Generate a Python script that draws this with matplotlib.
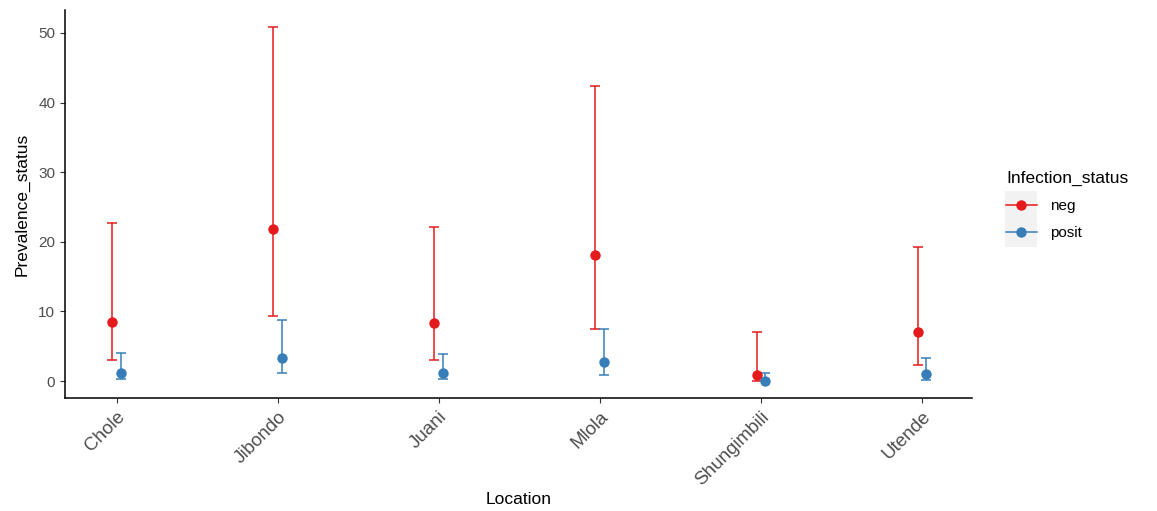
import numpy as np
import matplotlib
matplotlib.use("Agg")
import matplotlib.pyplot as plt
from matplotlib.patches import Rectangle
from matplotlib.lines import Line2D

# data
locations = ['Chole', 'Jibondo', 'Juani', 'Mlola', 'Shungimbili', 'Utende']
neg_mean = [8.5, 21.9, 8.3, 18.1, 0.9, 7.0]
neg_low = [3.0, 9.3, 3.0, 7.5, 0.05, 2.3]
neg_high = [22.7, 50.8, 22.2, 42.4, 7.0, 19.3]
pos_mean = [1.2, 3.3, 1.2, 2.7, 0.05, 1.0]
pos_low = [0.3, 1.2, 0.3, 0.9, 0.0, 0.2]
pos_high = [4.0, 8.8, 3.9, 7.5, 1.2, 3.3]

plt.rcParams['font.family'] = ['Liberation Sans', 'DejaVu Sans']

fig = plt.figure(figsize=(11.57, 5.11), dpi=100)
ax = fig.add_axes([0.0562, 0.2211, 0.7838, 0.7593])

x = np.arange(len(locations))
dodge = 0.027
series = [
    ('neg', neg_mean, neg_low, neg_high, '#E41A1C', -dodge),
    ('posit', pos_mean, pos_low, pos_high, '#377EB8', dodge),
]
handles = []
for name, mean, low, high, color, off in series:
    mean = np.array(mean)
    err = [mean - np.array(low), np.array(high) - mean]
    ax.errorbar(x + off, mean, yerr=err, fmt='none', ecolor=color,
                elinewidth=1.1, capsize=3.6, capthick=1.1)
    ax.plot(x + off, mean, 'o', color=color, markersize=7.5,
            markeredgewidth=0, zorder=3)
    handles.append(Line2D([], [], color=color, lw=1.1, marker='o',
                          markersize=7.5, markeredgewidth=0))

ax.set_xlim(-0.32, 5.31)
ax.set_ylim(-2.44, 53.3)
ax.set_xticks(x)
ax.set_xticklabels(locations, rotation=45, ha='right', rotation_mode='anchor',
                   fontsize=13.5, color='#4D4D4D')
ax.set_yticks([0, 10, 20, 30, 40, 50])
ax.tick_params(axis='y', labelsize=11, labelcolor='#4D4D4D', length=3.5,
               color='#333333')
ax.tick_params(axis='x', length=3.5, color='#333333', pad=4)
for s in ['top', 'right']:
    ax.spines[s].set_visible(False)
for s in ['left', 'bottom']:
    ax.spines[s].set_linewidth(1.1)
    ax.spines[s].set_color('black')

ax.set_xlabel('Location', fontsize=12.5, labelpad=2)
ax.set_ylabel('Prevalence_status', fontsize=12.5, labelpad=6)

# legend with grey key background
fig.patches.append(Rectangle((1005 / 1157, 1 - 247 / 511), 32 / 1157, 56 / 511,
                             transform=fig.transFigure, facecolor='#F2F2F2',
                             edgecolor='none', zorder=0))
leg = fig.legend(handles, ['neg', 'posit'], title='Infection_status',
                 loc='upper left', bbox_to_anchor=(1000 / 1157, 1 - 165 / 511),
                 frameon=False, fontsize=11, title_fontsize=12.5,
                 handlelength=2.0, handletextpad=0.9, labelspacing=0.85,
                 borderaxespad=0)
leg._legend_box.align = 'left'

fig.savefig('out.png', dpi=100)
